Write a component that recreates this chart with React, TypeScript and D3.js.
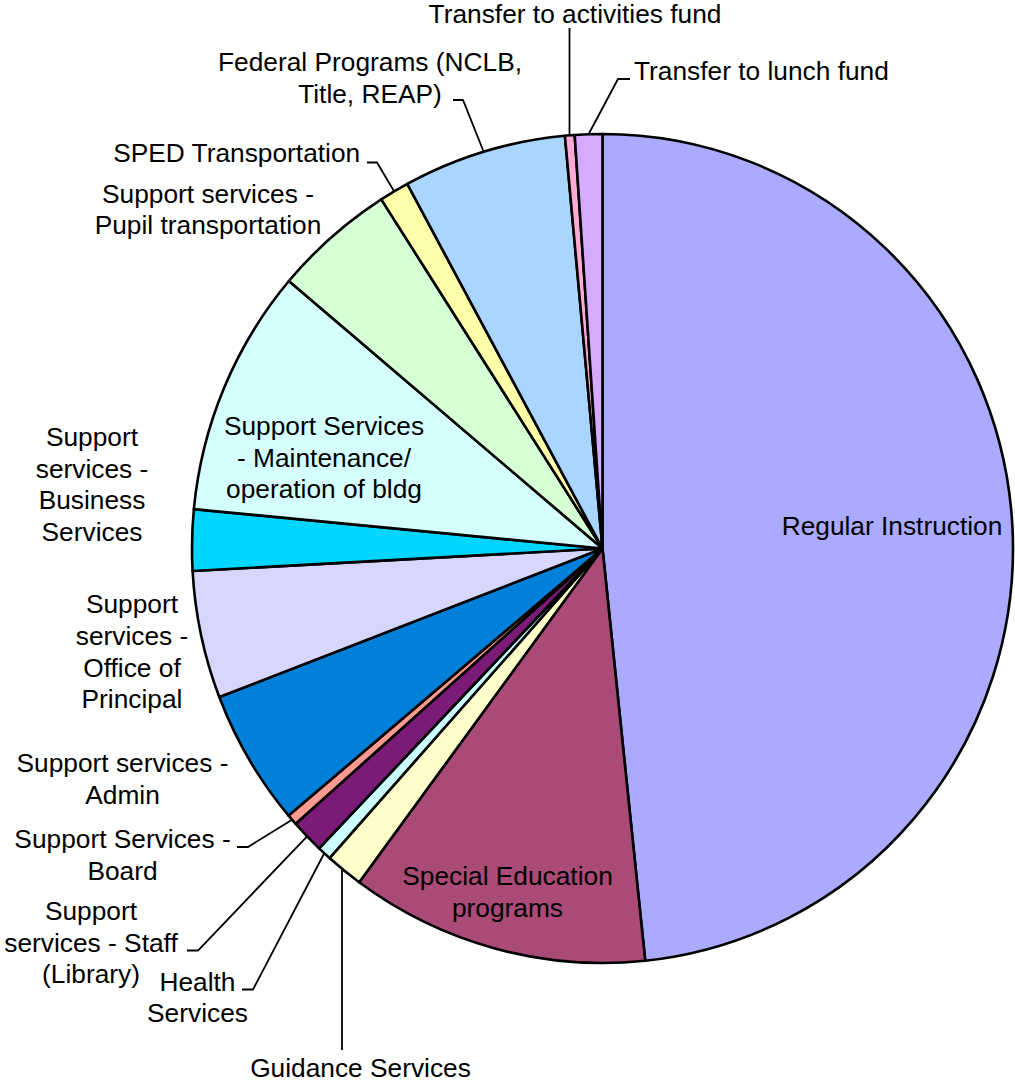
import React from "react";
import * as d3 from "d3";

const categories = [
  "Regular Instruction",
  "Special Education programs",
  "Guidance Services",
  "Health Services",
  "Support services - Staff (Library)",
  "Support Services - Board",
  "Support services - Admin",
  "Support services - Office of Principal",
  "Support services - Business Services",
  "Support Services - Maintenance/ operation of bldg",
  "Support services - Pupil transportation",
  "SPED Transportation",
  "Federal Programs (NCLB, Title, REAP)",
  "Transfer to activities fund",
  "Transfer to lunch fund",
];

const values = [48.35, 11.76, 1.48, 0.55, 1.31, 0.42, 5.31, 4.97, 2.38, 9.65, 4.78, 1.17, 6.43, 0.38, 1.08];

const colors = [
  "#aaaaff", "#aa4a76", "#ffffcc", "#ccffff", "#7b1a77", "#ff9a90", "#0080d8", "#d6d6ff",
  "#00d5ff", "#d5ffff", "#d5ffd5", "#ffffaa", "#aad5ff", "#ffaad5", "#d5aaff",
];

// label text lines per slice
const labelLines: string[][] = [
  ["Regular Instruction"],
  ["Special Education", "programs"],
  ["Guidance Services"],
  ["Health", "Services"],
  ["Support", "services - Staff", "(Library)"],
  ["Support Services -", "Board"],
  ["Support services -", "Admin"],
  ["Support", "services -", "Office of", "Principal"],
  ["Support", "services -", "Business", "Services"],
  ["Support Services", "- Maintenance/", "operation of bldg"],
  ["Support services -", "Pupil transportation"],
  ["SPED Transportation"],
  ["Federal Programs (NCLB,", "Title, REAP)"],
  ["Transfer to activities fund"],
  ["Transfer to lunch fund"],
];

const W = 1015;
const H = 1086;
const CX = 602.5;
const CY = 548.5;
const RX = 410.5;
const RY = 414.5;
const FONT = "'Liberation Sans', Arial, Helvetica, sans-serif";
const FS = 26.3;
const LH = 31.7;

type Layout = {
  x: number;
  y: number; // baseline of first line
  anchor?: "middle" | "start" | "end";
  leader?: [number, number][]; // points from label towards pie edge (edge point appended)
};

const layout: Layout[] = [
  { x: 892, y: 535 },
  { x: 507.5, y: 885 },
  { x: 360.5, y: 1077, leader: [[342, 1050]] },
  { x: 197.5, y: 990.7, leader: [[242, 989.5], [253, 989.5]] },
  { x: 91, y: 920, leader: [[187, 950.5], [198, 950.5]] },
  { x: 122.5, y: 848.3, leader: [[237, 847], [248, 847]] },
  { x: 122.5, y: 772.3 },
  { x: 132, y: 613.3 },
  { x: 92, y: 446 },
  { x: 324, y: 435 },
  { x: 208, y: 202.5 },
  { x: 236.7, y: 161.5, leader: [[367, 162.5], [377, 162.5]] },
  { x: 370, y: 71, leader: [[453, 100], [463, 100]] },
  { x: 575, y: 23, leader: [[569.5, 28]] },
  { x: 634, y: 80, anchor: "start", leader: [[630, 79], [618, 79]] },
];

export default function App() {
  const pie = d3
    .pie<number>()
    .sort(null)
    .value((d) => d)
    .startAngle(0)
    .endAngle(Math.PI * 2);
  const arcs = pie(values);
  const arc = d3.arc<d3.PieArcDatum<number>>().innerRadius(0).outerRadius(RX);

  const edgePoint = (a: number): [number, number] => [CX + RX * Math.sin(a), CY - RY * Math.cos(a)];

  return (
    <svg
      width={W}
      height={H}
      style={{ position: "absolute", left: 0, top: 0, background: "#fff" }}
      fontFamily={FONT}
      fontSize={FS}
    >
      <g transform={`translate(${CX},${CY}) scale(1,${RY / RX})`}>
        {arcs.map((a, i) => (
          <path
            key={i}
            d={arc(a) || ""}
            fill={colors[i]}
            stroke="#000"
            strokeWidth={2.6}
            strokeLinejoin="round"
            vectorEffect="non-scaling-stroke"
          />
        ))}
      </g>
      {arcs.map((a, i) => {
        const L = layout[i];
        if (!L.leader) return null;
        const mid = (a.startAngle + a.endAngle) / 2;
        let end = edgePoint(mid);
        const pts = [...L.leader];
        if (pts.length === 1) {
          // vertical leader: meet the ellipse at the label's x, on the slice's side
          const x = pts[0][0];
          const t = (x - CX) / RX;
          const h = RY * Math.sqrt(Math.max(0, 1 - t * t));
          end = [x, Math.cos(mid) > 0 ? CY - h : CY + h];
        }
        const all = [...pts, end];
        const line = d3.line<[number, number]>()(all as [number, number][]);
        return <path key={"l" + i} d={line || ""} fill="none" stroke="#000" strokeWidth={1.8} />;
      })}
      {labelLines.map((lines, i) => {
        const L = layout[i];
        return (
          <text key={"t" + i} x={L.x} y={L.y} textAnchor={L.anchor || "middle"} fill="#000">
            {lines.map((s, j) => (
              <tspan key={j} x={L.x} y={L.y + j * LH}>
                {s}
              </tspan>
            ))}
          </text>
        );
      })}
    </svg>
  );
}
